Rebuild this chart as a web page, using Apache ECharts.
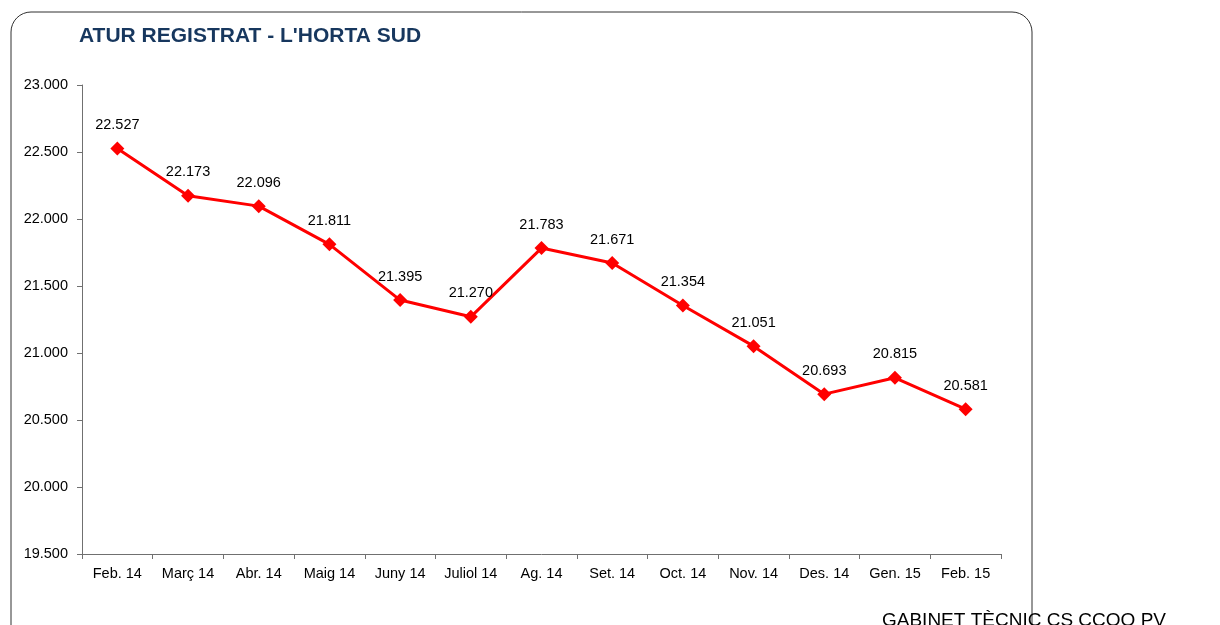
<!DOCTYPE html>
<html>
<head>
<meta charset="utf-8">
<script src="https://cdn.jsdelivr.net/npm/echarts@6/dist/echarts.min.js"></script>
<style>
html, body { margin: 0; padding: 0; background: #fff; }
#container { width: 1220px; height: 625px; }
</style>
</head>
<body>
<div id="container"></div>
<script>
var months = ['Feb. 14', 'Març 14', 'Abr. 14', 'Maig 14', 'Juny 14', 'Juliol 14', 'Ag. 14',
    'Set. 14', 'Oct. 14', 'Nov. 14', 'Des. 14', 'Gen. 15', 'Feb. 15'];
var atur = [22527, 22173, 22096, 21811, 21395, 21270, 21783, 21671, 21354, 21051, 20693, 20815, 20581];

function fmt(v) {
    // punt com a separador de milers
    return String(v).replace(/\B(?=(\d{3})+(?!\d))/g, '.');
}

var dom = document.getElementById("container");
var myChart = echarts.init(dom);
var option = {
    animation: false,
    textStyle: { fontFamily: 'Liberation Sans, Arial, sans-serif' },
    title: {
        text: "ATUR REGISTRAT - L'HORTA SUD",
        left: 79,
        top: 26,
        padding: 0,
        textStyle: { color: '#17375E', fontSize: 21, fontWeight: 'bold', fontFamily: 'Liberation Sans, Arial, sans-serif' }
    },
    graphic: [{
        type: 'rect',
        shape: { x: 11, y: 12, width: 1021, height: 640, r: 20 },
        style: { fill: 'none', stroke: '#303030', lineWidth: 1 },
        silent: true
    }, {
        type: 'text',
        left: 882,
        top: 611,
        style: { text: 'GABINET TÈCNIC CS CCOO PV', fill: '#000', fontSize: 19, fontFamily: 'Liberation Sans, Arial, sans-serif' }
    }],
    grid: { left: 82, right: 219, top: 85, bottom: 71 },
    xAxis: {
        type: 'category',
        data: months,
        boundaryGap: true,
        axisLine: { lineStyle: { color: '#707070', width: 1 } },
        axisTick: { show: true, length: 5, lineStyle: { color: '#707070' } },
        axisLabel: { color: '#000', fontSize: 14.5, margin: 12, interval: 0 },
        splitLine: { show: false }
    },
    yAxis: {
        type: 'value',
        min: 19500,
        max: 23000,
        interval: 500,
        axisLine: { show: true, lineStyle: { color: '#707070', width: 1 } },
        axisTick: { show: true, length: 5, lineStyle: { color: '#707070' } },
        axisLabel: { color: '#000', fontSize: 14.5, margin: 14, formatter: fmt },
        splitLine: { show: false }
    },
    series: [{
        type: 'line',
        data: atur,
        symbol: 'diamond',
        symbolSize: 14,
        itemStyle: { color: '#FF0000' },
        lineStyle: { color: '#FF0000', width: 3 },
        label: {
            show: true,
            position: 'top',
            distance: 9,
            color: '#000',
            fontSize: 14.5,
            formatter: function (p) { return fmt(p.value); }
        }
    }]
};
myChart.setOption(option, true);
</script>
</body>
</html>
